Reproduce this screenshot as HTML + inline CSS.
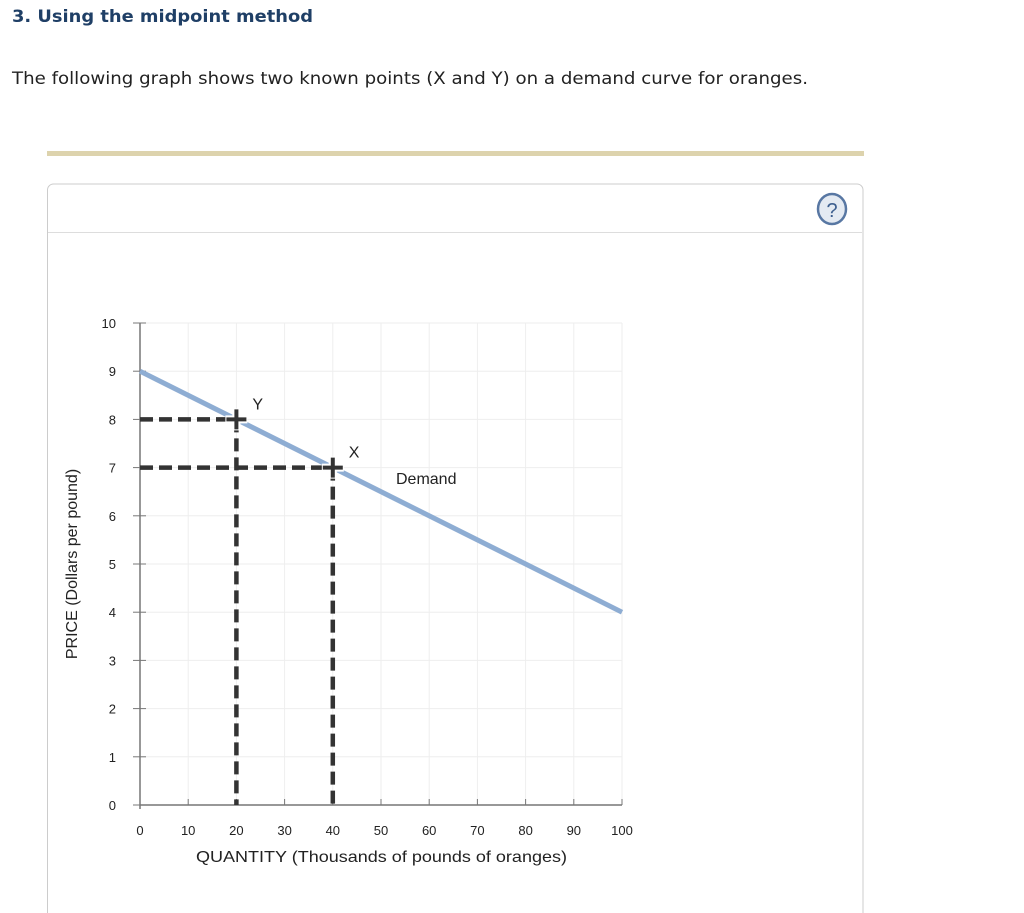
<!DOCTYPE html>
<html><head><meta charset="utf-8"><style>
body{margin:0;background:#fff;font-family:"Liberation Sans",sans-serif;}
svg{display:block}
</style></head><body>
<svg width="1024" height="913" viewBox="0 0 1024 913" xmlns="http://www.w3.org/2000/svg">
<text x="12" y="22" font-family="DejaVu Sans, sans-serif" font-weight="bold" font-size="17" fill="#1f3f66" textLength="301" lengthAdjust="spacingAndGlyphs">3. Using the midpoint method</text>
<text x="12" y="84" font-family="DejaVu Sans, sans-serif" font-size="17" fill="#222" textLength="796" lengthAdjust="spacingAndGlyphs">The following graph shows two known points (X and Y) on a demand curve for oranges.</text>
<rect x="47" y="151" width="817" height="5" fill="#ddd3ad"/>
<path d="M47.5 920 V190 a6 6 0 0 1 6 -6 H857 a6 6 0 0 1 6 6 V920" fill="#fff" stroke="#ccc"/>
<line x1="48" y1="232.5" x2="862" y2="232.5" stroke="#ddd"/>
<g>
<ellipse cx="832" cy="209" rx="14" ry="15" fill="#e4eaf2" stroke="#5877a3" stroke-width="2.5"/>
<text x="832" y="217" text-anchor="middle" font-size="20" fill="#3d5f8f">?</text>
</g>
<g id="chart"></g>
</svg>
<script>
const xTicks=[0,10,20,30,40,50,60,70,80,90,100];
const yTicks=[0,1,2,3,4,5,6,7,8,9,10];
const demandQ=[0,100];
const demandP=[9,4];
const pointNames=["Y","X"];
const pointQ=[20,40];
const pointP=[8,7];
const X0=140,X1=622,Y0=805,Y1=323;
const sx=v=>X0+(X1-X0)*v/100;
const sy=v=>Y0-(Y0-Y1)*v/10;
const g=document.getElementById('chart');
const NS='http://www.w3.org/2000/svg';
function mk(t,a,p){const e=document.createElementNS(NS,t);for(const k in a)e.setAttribute(k,a[k]);(p||g).appendChild(e);return e;}
xTicks.forEach(v=>{if(v>0){const l=mk('line',{x1:sx(v),y1:Y1,x2:sx(v),y2:Y0,stroke:'#eee'});

}});
yTicks.forEach(v=>{if(v>0){const l=mk('line',{x1:X0,y1:sy(v),x2:X1,y2:sy(v),stroke:'#eee'});

}});
const ax=mk('line',{x1:X0,y1:Y1,x2:X0,y2:Y0+4,stroke:'#777','stroke-width':1.5});


const axx=mk('line',{x1:X0,y1:Y0,x2:X1,y2:Y0,stroke:'#777','stroke-width':1.5});


xTicks.forEach(v=>{mk('line',{x1:sx(v),y1:Y0-6,x2:sx(v),y2:Y0,stroke:'#777'});
const t=mk('text',{x:sx(v),y:Y0+30,'text-anchor':'middle','font-size':13,fill:'#222'});t.textContent=v;

});
yTicks.forEach(v=>{mk('line',{x1:X0-7,y1:sy(v),x2:X0+6,y2:sy(v),stroke:'#777'});
const t=mk('text',{x:116,y:sy(v)+5,'text-anchor':'end','font-size':13,fill:'#222'});t.textContent=v;

});
const xt=mk('text',{x:196,y:862,'font-size':16,fill:'#222',textLength:371,lengthAdjust:'spacingAndGlyphs'});xt.textContent='QUANTITY (Thousands of pounds of oranges)';


const yt=mk('text',{x:77,y:564,'text-anchor':'middle','font-size':16,fill:'#222',transform:'rotate(-90 77 564)'});yt.textContent='PRICE (Dollars per pound)';


const d=mk('line',{x1:sx(demandQ[0]),y1:sy(demandP[0]),x2:sx(demandQ[1]),y2:sy(demandP[1]),stroke:'#8eadd3','stroke-width':5});


const dl=mk('text',{x:396,y:484,'font-size':16,fill:'#222'});dl.textContent='Demand';


pointNames.forEach((n,i)=>{const px=sx(pointQ[i]),py=sy(pointP[i]);
const h=mk('line',{x1:X0,y1:py,x2:px,y2:py,stroke:'#333','stroke-width':4.5,'stroke-dasharray':'13 6'});


const v=mk('line',{x1:px,y1:py,x2:px,y2:Y0,stroke:'#333','stroke-width':4.5,'stroke-dasharray':'13 6'});


const p=mk('path',{d:`M${px-11} ${py}H${px+11}M${px} ${py-11}V${py+11}`,stroke:'#fff','stroke-width':8});


const c=mk('path',{d:`M${px-10} ${py}H${px+10}M${px} ${py-10}V${py+10}`,stroke:'#333','stroke-width':4});


const t=mk('text',{x:px+16,y:py-10,'font-size':16,fill:'#222'});t.textContent=n;

});
</script>
</body></html>
